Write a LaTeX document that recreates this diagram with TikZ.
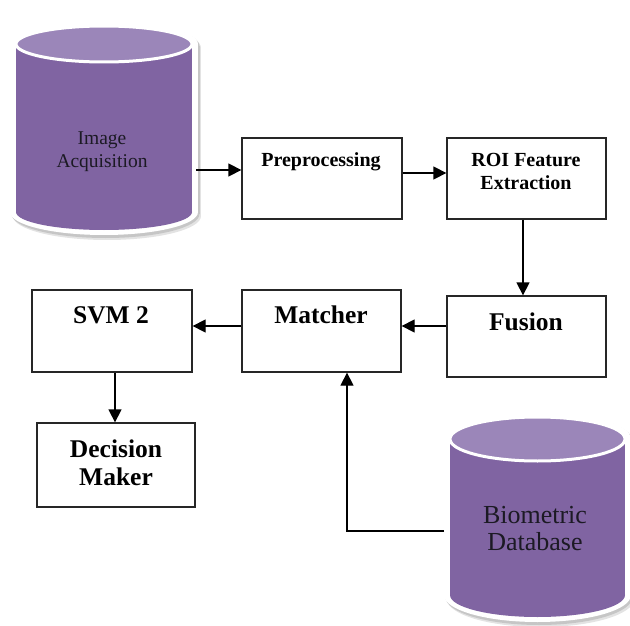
\documentclass[tikz,border=0pt]{standalone}
\usepackage{fontspec}
\setmainfont{Liberation Serif}
\usetikzlibrary{arrows.meta}

\definecolor{drumbody}{HTML}{8064A2}
\definecolor{drumtop}{HTML}{9B86B9}
\definecolor{inkdark}{HTML}{1C1A24}

% filled cylinder outline: cx, top centre y, bottom centre y, rx, ry, colour
\newcommand\drumshape[6]{%
  \fill[#6] ({(#1)-(#4)},{#2}) rectangle ({(#1)+(#4)},{#3});
  \fill[#6] ({#1},{#2}) ellipse [x radius={#4}, y radius={#5}];
  \fill[#6] ({#1},{#3}) ellipse [x radius={#4}, y radius={#5}];}

% complete database drum with white rim and soft shadow
\newcommand\drum[5]{%
  \drumshape{#1+3}{#2+4}{#3+4}{#4+6}{#5+6}{gray!22}
  \drumshape{#1+1.5}{#2+2}{#3+2}{#4+6}{#5+6}{gray!45}
  \drumshape{#1}{#2}{#3}{#4+6}{#5+5}{white}
  \drumshape{#1}{#2}{#3}{#4}{#5}{drumbody}
  \fill[drumtop, draw=white, line width=3pt] (#1,#2) ellipse [x radius=#4, y radius=#5];}

\newcommand\twolines[2]{\begin{tabular}[t]{@{}c@{}}#1\\#2\end{tabular}}

\tikzset{
  box/.style n args={2}{draw=black!85, line width=1.3pt, fill=white,
    minimum width=#1, minimum height=#2, inner sep=0pt},
  smalltxt/.style={font=\fontsize{20}{23}\selectfont\bfseries, text=black,
    inner sep=0pt, anchor=base},
  bigtxt/.style={font=\fontsize{25.5}{28}\selectfont\bfseries, text=black,
    inner sep=0pt, anchor=base},
  drumtxt/.style={text=inkdark, inner sep=0pt, anchor=base},
  arr/.style={-{Triangle[length=13pt,width=13pt]}, line width=1.3pt, draw=black},
}

\begin{document}
\begin{tikzpicture}[x=1pt, y=-1pt]
\useasboundingbox (0,0) rectangle (630,626);

% data stores
\drum{104}{44}{212}{88}{18}
\drum{537.5}{439}{595}{87.5}{22}

\node[drumtxt, font=\fontsize{19.5}{23.5}\selectfont] (acq) at (102,144)
  {\twolines{Image}{Acquisition}};
\node[drumtxt, font=\fontsize{26}{27}\selectfont] (bdb) at (535,523)
  {\twolines{Biometric}{Database}};
\coordinate (acqR) at (196,170);
\coordinate (dbL) at (444,531);

% processing blocks
\node[box={160pt}{81pt}] (pre) at (322,178.5) {};
\node[box={159pt}{81pt}] (roi) at (526.5,178.5) {};
\node[box={159pt}{81pt}] (fus) at (526.5,336.5) {};
\node[box={159pt}{82pt}] (mat) at (321.5,331) {};
\node[box={160pt}{82pt}] (svm) at (112,331) {};
\node[box={158pt}{84pt}] (dec) at (116,465) {};

\node[smalltxt] (preT) at (321,166) {Preprocessing};
\node[smalltxt] (roiT) at (526,166) {\twolines{ROI Feature}{Extraction}};
\node[bigtxt] (fusT) at (526,330) {Fusion};
\node[bigtxt] (matT) at (321,323) {Matcher};
\node[bigtxt] (svmT) at (111,323) {SVM 2};
\node[bigtxt] (decT) at (116,457) {\twolines{Decision}{Maker}};

% connectors
\draw[arr] (acqR) -- (acqR -| pre.west);
\draw[arr] ([yshift=5.5pt]pre.east) -- ([yshift=5.5pt]roi.west);
\draw[arr] ([xshift=-3.5pt]roi.south) -- ([xshift=-3.5pt]fus.north);
\draw[arr] ([yshift=5pt]mat.east -| fus.west) -- ([yshift=5pt]mat.east);
\draw[arr] ([yshift=5pt]mat.west) -- ([yshift=5pt]svm.east);
\draw[arr] ([xshift=3pt]svm.south) -- ([xshift=3pt]svm.south |- dec.north);
\draw[arr] (dbL) -| ([xshift=25.5pt]mat.south);
\end{tikzpicture}
\end{document}
